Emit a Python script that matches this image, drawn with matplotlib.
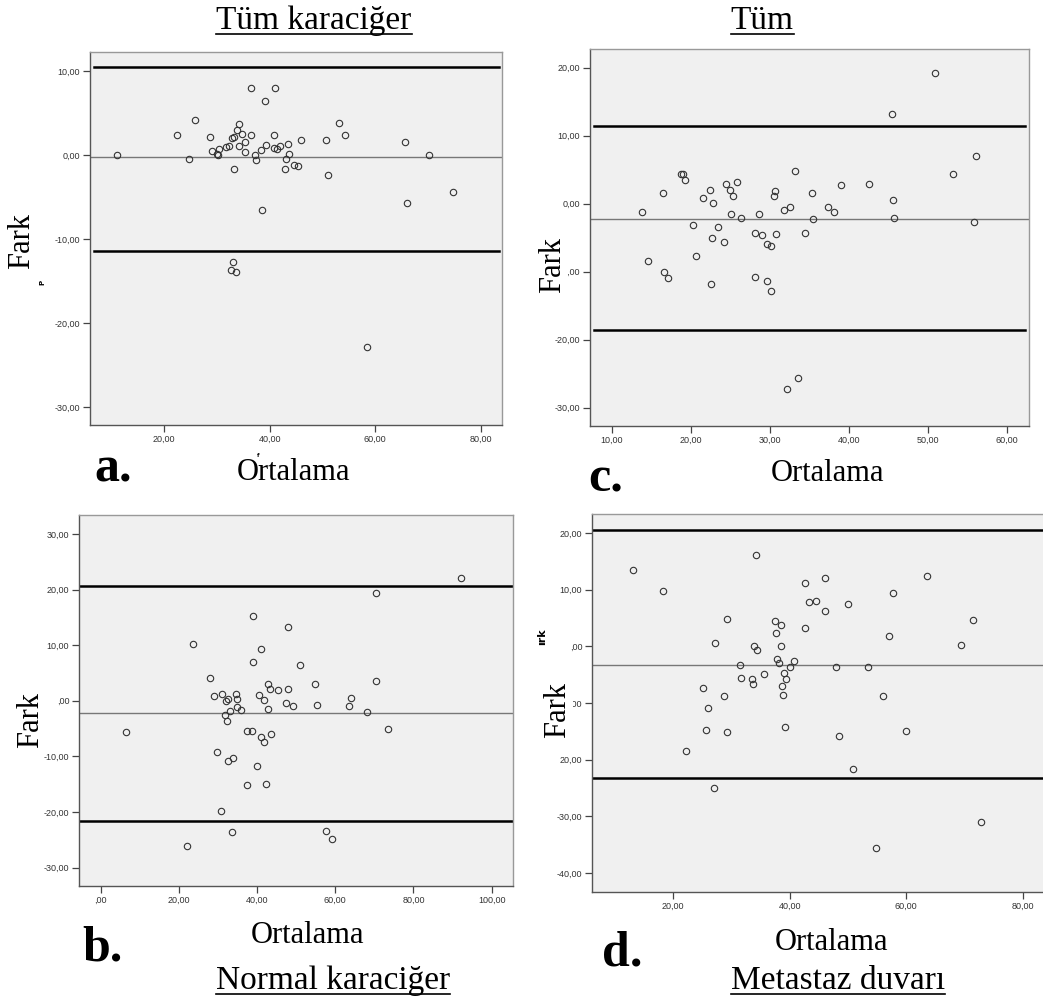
import matplotlib
matplotlib.use("Agg")
import matplotlib.pyplot as plt
from matplotlib.lines import Line2D

# panel a: Tüm karaciğer
a_x = [11.2, 22.5, 25.9, 24.7, 28.8, 29.1, 30.0, 30.2, 30.5, 31.8, 32.4, 32.9, 33.3, 33.3,
       33.8, 34.2, 34.3, 34.7, 35.4, 35.4, 36.5, 36.5, 37.2, 37.4, 38.4, 38.6, 39.1, 39.3,
       40.8, 40.8, 41.0, 41.4, 42.0, 42.9, 43.1, 43.4, 43.6, 44.6, 45.3, 46.0, 50.7, 51.1,
       53.1, 54.2, 58.4, 65.6, 66.1, 70.1, 74.7, 33.1, 32.6, 33.7]
a_y = [0.04, 2.34, 4.13, -0.48, 2.14, 0.48, 0.08, 0.0, 0.75, 0.95, 1.03, 2.02, 2.14, -1.63,
       2.94, 3.65, 1.03, 2.54, 0.36, 1.51, 7.94, 2.34, 0.0, -0.6, 0.63, -6.55, 6.43, 1.23,
       2.42, 0.83, 7.94, 0.67, 1.07, -1.67, -0.48, 1.35, 0.12, -1.19, -1.35, 1.83, 1.75, -2.34,
       3.85, 2.42, -22.8, 1.55, -5.75, 0.04, -4.37, -12.66, -13.65, -13.85]
a_lines = [10.44, -0.28, -11.43]

# panel c: Tüm
c_x = [13.8, 14.5, 16.5, 16.6, 17.1, 18.8, 19.0, 19.2, 20.2, 20.7, 21.5, 22.4, 22.7, 22.6,
       22.8, 23.4, 24.2, 24.4, 24.9, 25.1, 25.3, 25.8, 26.4, 28.1, 28.1, 28.6, 29.0, 29.6,
       29.6, 30.2, 30.2, 30.5, 30.6, 30.8, 31.8, 32.5, 33.2, 32.2, 33.5, 34.5, 35.4, 35.5,
       37.4, 38.1, 39.0, 42.6, 45.5, 45.6, 45.7, 50.9, 53.2, 55.9, 56.1]
c_y = [-1.18, -8.38, 1.62, -10.0, -10.88, 4.36, 4.36, 3.53, -3.19, -7.70, 0.83, 2.06, -5.0,
       -11.81, 0.05, -3.48, -5.69, 2.84, 1.96, -1.57, 1.18, 3.14, -2.06, -4.26, -10.78, -1.47,
       -4.66, -5.88, -11.37, -6.27, -12.79, 1.18, 1.81, -4.46, -0.88, -0.49, 4.85, -27.2,
       -25.69, -4.26, 1.62, -2.25, -0.49, -1.18, 2.75, 2.84, 13.24, 0.54, -2.16, 19.17, 4.36,
       -2.75, 6.96]
c_lines = [11.37, -2.2, -18.53]

# panel b: Normal karaciğer
b_x = [6.6, 22.1, 23.5, 28.0, 29.0, 29.8, 30.7, 31.1, 31.8, 32.1, 32.2, 32.5, 32.5, 33.0,
       33.6, 33.8, 34.5, 34.8, 34.9, 35.9, 37.3, 37.5, 38.6, 38.9, 38.9, 39.9, 40.5, 40.9,
       41.0, 41.7, 41.8, 42.4, 42.7, 42.7, 43.3, 43.5, 45.3, 47.4, 47.8, 48.0, 49.1, 51.0,
       54.7, 55.3, 57.5, 59.2, 63.4, 64.1, 68.2, 70.4, 70.4, 73.4, 92.2]
b_y = [-5.64, -26.08, 10.19, 4.08, 0.78, -9.23, -19.84, 1.20, -2.64, 0.0, -3.72, 0.36, -10.85,
       -1.92, -23.62, -10.37, 1.20, 0.36, -1.14, -1.62, -15.23, -5.52, -5.52, 15.29, 6.95,
       -11.81, 0.96, 9.29, -6.59, 0.06, -7.37, -15.05, 3.0, -1.5, 2.04, -5.94, 1.86, -0.48,
       13.19, 2.10, -0.96, 6.41, 3.06, -0.84, -23.44, -24.88, -1.02, 0.42, -2.04, 19.30, 3.48,
       -5.16, 22.0]
b_lines = [20.68, -2.28, -21.58]

# panel d: Metastaz duvarı
d_x = [13.2, 18.3, 22.3, 25.1, 25.7, 26.0, 27.0, 27.3, 28.8, 29.2, 29.3, 31.5, 31.7, 33.6,
       33.8, 33.9, 34.2, 34.5, 35.6, 37.5, 37.7, 37.8, 38.2, 38.6, 38.6, 38.7, 38.8, 39.1,
       39.2, 39.4, 40.1, 40.8, 42.6, 42.6, 43.4, 44.6, 46.0, 46.1, 48.0, 48.5, 50.0, 50.8,
       53.4, 54.8, 56.0, 57.1, 57.8, 59.9, 63.6, 69.4, 71.4, 72.8]
d_y = [13.41, 9.82, -18.41, -7.41, -14.71, -10.88, -25.0, 0.53, -8.82, 4.82, -15.12, -3.29,
       -5.59, -5.76, -6.65, 0.12, 16.06, -0.71, -4.88, 4.41, 2.41, -2.24, -3.0, 3.71, 0.0,
       -7.0, -8.59, -4.76, -14.29, -5.71, -3.59, -2.65, 11.24, 3.24, 7.82, 7.94, 12.06, 6.29,
       -3.59, -15.82, 7.53, -21.71, -3.59, -35.53, -8.71, 1.82, 9.35, -15.0, 12.35, 0.29,
       4.71, -31.0]
d_lines = [20.53, -3.29, -23.29]

a_xt = [20, 40, 60, 80]
a_xl = ["20,00", "40,00", "60,00", "80,00"]
a_yt = [10, 0, -10, -20, -30]
a_yl = ["10,00", "0,00", "-10,00", "-20,00", "-30,00"]
c_xt = [10, 20, 30, 40, 50, 60]
c_xl = ["10,00", "20,00", "30,00", "40,00", "50,00", "60,00"]
c_yt = [20, 10, 0, -10, -20, -30]
c_yl = ["20,00", "10,00", "0,00", "-10,00", "-20,00", "-30,00"]
b_xt = [0, 20, 40, 60, 80, 100]
b_xl = [",00", "20,00", "40,00", "60,00", "80,00", "100,00"]
b_yt = [30, 20, 10, 0, -10, -20, -30]
b_yl = ["30,00", "20,00", "10,00", ",00", "-10,00", "-20,00", "-30,00"]
d_xt = [20, 40, 60, 80]
d_xl = ["20,00", "40,00", "60,00", "80,00"]
d_yt = [20, 10, 0, -10, -20, -30, -40]
d_yl = ["20,00", "10,00", ",00", "-10,00", "20,00", "-30,00", "-40,00"]

SERIF = "Liberation Serif"

fig = plt.figure(figsize=(10.43, 10.05), dpi=100)


def panel(rect, xs, ys, lines, xlim, ylim, xt, xl, yt, yl, span=(0, 1)):
    ax = fig.add_axes(rect)
    ax.set_facecolor("#f0f0f0")
    ax.plot(xs, ys, "o", mfc="none", mec="#333333", mew=0.8, ms=4.6, zorder=3)
    ax.axhline(lines[0], xmin=span[0], xmax=span[1], color="black", lw=1.8)
    ax.axhline(lines[1], color="#777777", lw=1.0)
    ax.axhline(lines[2], xmin=span[0], xmax=span[1], color="black", lw=1.8)
    ax.set_xlim(xlim)
    ax.set_ylim(ylim)
    ax.set_xticks(xt)
    ax.set_xticklabels(xl)
    ax.set_yticks(yt)
    ax.set_yticklabels(yl)
    ax.tick_params(direction="out", length=5, width=0.9, color="#444444",
                   labelsize=6.5, labelcolor="#333333", pad=2)
    for lab in ax.get_xticklabels() + ax.get_yticklabels():
        lab.set_family("Liberation Sans")
    for s in ["top", "right"]:
        ax.spines[s].set_color("#999999")
        ax.spines[s].set_linewidth(1.0)
    for s in ["left", "bottom"]:
        ax.spines[s].set_color("#555555")
        ax.spines[s].set_linewidth(1.0)
    return ax


W, H = 1043.0, 1005.0


def r(l, t, rgt, b):
    return [l / W, 1 - b / H, (rgt - l) / W, (b - t) / H]


panel(r(90, 52, 502, 425), a_x, a_y, a_lines, (6.0, 84.0), (-32.1, 12.26),
      a_xt, a_xl, a_yt, a_yl, span=(0.01, 0.993))
panel(r(590, 49, 1029, 426), c_x, c_y, c_lines, (7.21, 62.83), (-32.7, 22.75),
      c_xt, c_xl, c_yt, c_yl, span=(0.01, 0.99))
panel(r(79, 515, 513, 886), b_x, b_y, b_lines, (-5.54, 105.45), (-33.3, 33.4),
      b_xt, b_xl, b_yt, b_yl)
panel(r(592, 514, 1048, 892), d_x, d_y, d_lines, (6.13, 84.3), (-43.35, 23.35),
      d_xt, d_xl, d_yt, d_yl)


def ftext(x, y, s, **kw):
    return fig.text(x / W, 1 - y / H, s, **kw)


# axis labels
for (x, y) in [(294, 472), (827, 473), (308, 935), (832, 942)]:
    ftext(x, y, "Ortalama", family=SERIF, fontsize=22, ha="center", va="center")
for (x, y) in [(22, 241), (553, 265), (31, 720), (558, 710)]:
    ftext(x, y, "Fark", family=SERIF, fontsize=22, rotation=90, ha="center", va="center",
          bbox=dict(facecolor="white", edgecolor="none", pad=0))

# panel letters
for (x, y, s) in [(94, 482, "a."), (588, 491, "c."), (82, 960, "b."), (602, 965, "d.")]:
    ftext(x, y, s, family=SERIF, fontsize=36, fontweight="bold", ha="left", va="baseline")

# stray fragments
ftext(42, 282, "P", family="DejaVu Sans", fontsize=5, fontweight="bold", rotation=90,
      ha="center", va="center")
ftext(542, 637, "ırk", family="DejaVu Sans", fontsize=8, fontweight="bold", rotation=90,
      ha="center", va="center")
ftext(258, 455, "f", family="DejaVu Sans", fontsize=4, fontweight="bold",
      ha="center", va="center")

# underlined titles
titles = [(314, 21, "Tüm karaciğer"), (762, 21, "Tüm"),
          (333, 981, "Normal karaciğer"), (838, 981, "Metastaz duvarı")]
title_texts = [ftext(x, y, s, family=SERIF, fontsize=24, ha="center", va="center")
               for (x, y, s) in titles]

fig.canvas.draw()
rend = fig.canvas.get_renderer()
for t in title_texts:
    bb = t.get_window_extent(rend)
    y0 = (bb.y0 + 2) / (H)
    fig.add_artist(Line2D([bb.x0 / W, bb.x1 / W], [y0, y0], color="black", lw=1.2))

fig.savefig("out.png", dpi=100)
